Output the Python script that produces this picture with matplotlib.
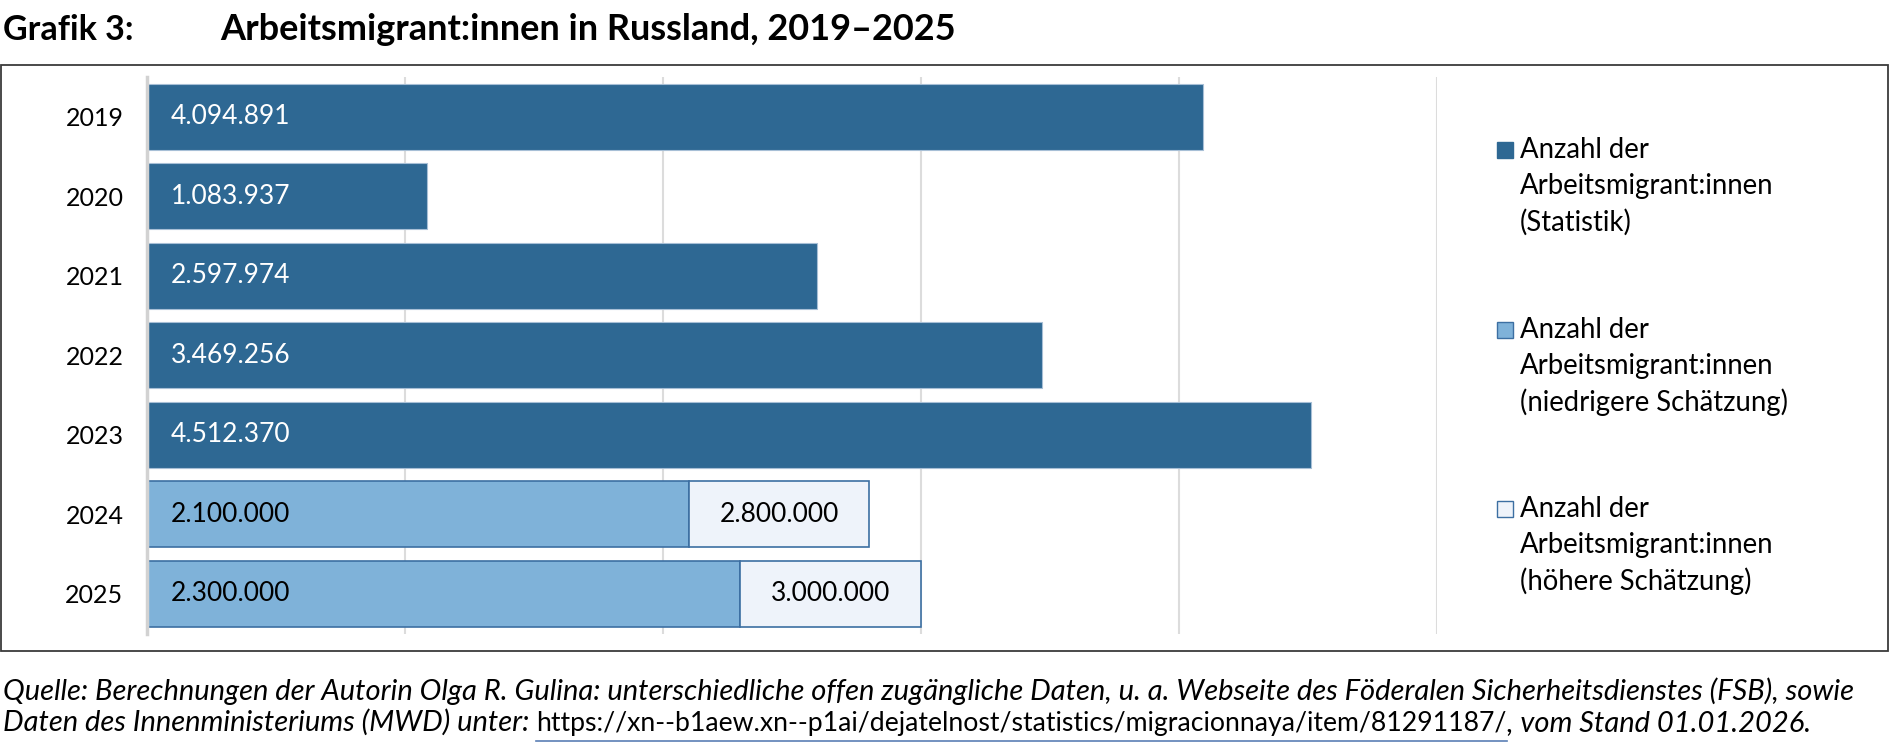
import numpy as np
import matplotlib.pyplot as plt
from matplotlib.patches import Rectangle
from matplotlib.lines import Line2D

plt.rcParams['font.family'] = ['Lato', 'DejaVu Sans']

# Data
years = ['2019', '2020', '2021', '2022', '2023', '2024', '2025']
statistik = [4094891, 1083937, 2597974, 3469256, 4512370, np.nan, np.nan]
schaetzung_niedrig = [np.nan, np.nan, np.nan, np.nan, np.nan, 2100000, 2300000]
schaetzung_hoch = [np.nan, np.nan, np.nan, np.nan, np.nan, 2800000, 3000000]

legend_labels = ['Anzahl der\nArbeitsmigrant:innen\n(Statistik)',
                 'Anzahl der\nArbeitsmigrant:innen\n(niedrigere Schätzung)',
                 'Anzahl der\nArbeitsmigrant:innen\n(höhere Schätzung)']

title_nr = 'Grafik 3:'
title = 'Arbeitsmigrant:innen in Russland, 2019–2025'
quelle_1 = ('Quelle: Berechnungen der Autorin Olga R. Gulina: unterschiedliche offen zugängliche Daten, '
            'u. a. Webseite des Föderalen Sicherheitsdienstes (FSB), sowie')
quelle_2 = 'Daten des Innenministeriums (MWD) unter: '
quelle_url = 'https://xn--b1aew.xn--p1ai/dejatelnost/statistics/migracionnaya/item/81291187/'
quelle_3 = ', vom Stand 01.01.2026.'

dark = '#2E6893'
light = '#7FB2D9'
pale = '#EEF3FA'
colors = [dark, light, pale]


def fmt(v):
    return f'{v:,.0f}'.replace(',', '.')


W, H = 1890, 748
fig = plt.figure(figsize=(W / 100, H / 100), dpi=100)
ax = fig.add_axes([147 / W, 1 - 633.5 / H, (1437 - 147) / W, (633.5 - 77) / H])

y = np.arange(len(years))
bh = 0.83
ax.barh(y, statistik, height=bh, color=dark, edgecolor='#A7BFD6', linewidth=0.8, zorder=3)
low = np.array(schaetzung_niedrig)
high = np.array(schaetzung_hoch)
ax.barh(y, low, height=bh, color=light, edgecolor='#3C6FA2', linewidth=1.2, zorder=3)
ax.barh(y, high - low, left=low, height=bh, color=pale, edgecolor='#3C6FA2', linewidth=1.2, zorder=3)

# value labels
for i in y:
    if not np.isnan(statistik[i]):
        ax.annotate(fmt(statistik[i]), (0, i), xytext=(17, 0), textcoords='offset points',
                    ha='left', va='center', color='white', fontsize=19, zorder=4)
    if not np.isnan(low[i]):
        ax.annotate(fmt(low[i]), (0, i), xytext=(17, 0), textcoords='offset points',
                    ha='left', va='center', color='black', fontsize=19, zorder=4)
        ax.text((low[i] + high[i]) / 2, i, fmt(high[i]), ha='center', va='center',
                color='black', fontsize=19, zorder=4)

ax.set_xlim(0, 5000000)
ax.set_ylim(len(years) - 0.5, -0.5)
ax.set_xticks(np.arange(0, 5000001, 1000000))
ax.set_xticklabels([])
ax.tick_params(axis='x', length=0)
ax.set_yticks(y)
ax.set_yticklabels(years, fontsize=18)
ax.tick_params(axis='y', length=0, pad=17)
ax.grid(axis='x', color='#DCDCDC', linewidth=1.5, zorder=0)
for s in ['top', 'right', 'bottom']:
    ax.spines[s].set_visible(False)
ax.spines['left'].set_color('#D2D2D2')
ax.spines['left'].set_linewidth(2.5)
ax.spines['left'].set_zorder(5)

# legend drawn by hand
group_y = [150, 330, 509]
for lab, col, gy in zip(legend_labels, colors, group_y):
    fig.add_artist(Rectangle((1497 / W, 1 - (gy + 8) / H), 16 / W, 16 / H, transform=fig.transFigure,
                             facecolor=col, edgecolor='#3C6FA2' if col != dark else dark, linewidth=1))
    for k, line in enumerate(lab.split('\n')):
        fig.text(1520 / W, 1 - (gy + k * 36) / H, line, fontsize=19.8, va='center', ha='left')

# frame around the chart
fig.add_artist(Rectangle((1 / W, 1 - 651 / H), 1887 / W, 586 / H, transform=fig.transFigure,
                         fill=False, edgecolor='#3A3A3A', linewidth=1.3))

# titles
fig.text(3 / W, 1 - 40 / H, title_nr, fontsize=24.5, fontweight='bold', va='baseline')
fig.text(220 / W, 1 - 40 / H, title, fontsize=26, fontweight='bold', va='baseline')

# source lines
fig.canvas.draw()
r = fig.canvas.get_renderer()
fs = 15
t1 = fig.text(3 / W, 1 - 700 / H, quelle_1, fontsize=fs, style='italic', va='baseline')
w1 = t1.get_window_extent(r).width
fs = fs * 1859 / w1
t1.set_fontsize(fs)
t2 = fig.text(3 / W, 1 - 731 / H, quelle_2, fontsize=fs, style='italic', va='baseline')
x = t2.get_window_extent(r).x1
t3 = fig.text(x / W, 1 - 731 / H, quelle_url, fontsize=fs, va='baseline')
wu = t3.get_window_extent(r).width
t3.set_fontsize(fs * (1505 - x) / wu)
bb = t3.get_window_extent(r)
fig.add_artist(Line2D([bb.x0 / W, bb.x1 / W], [1 - 741 / H, 1 - 741 / H], transform=fig.transFigure,
                      color='#5B7FB5', linewidth=1.2))
fig.text(bb.x1 / W, 1 - 731 / H, quelle_3, fontsize=fs, style='italic', va='baseline')

fig.savefig('out.png', dpi=100)
